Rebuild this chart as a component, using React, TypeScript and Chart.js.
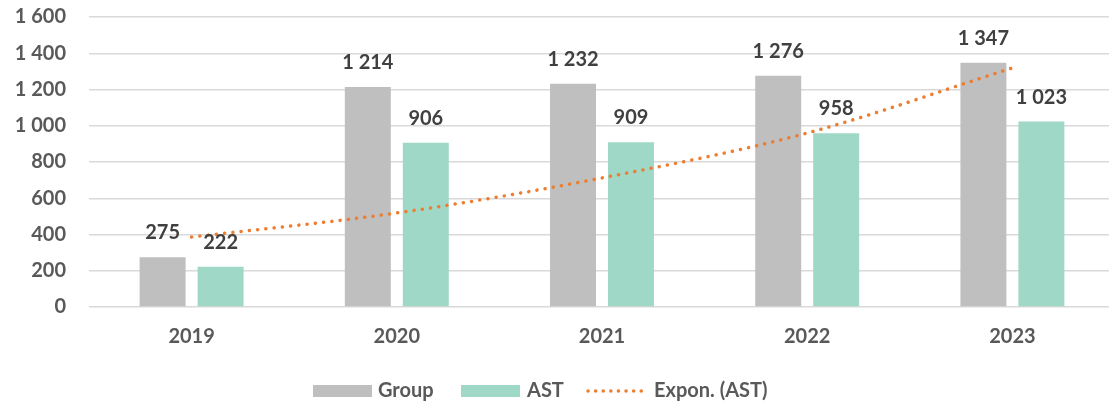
import React, { useEffect, useRef } from "react";
import { Chart, registerables } from "chart.js";

Chart.register(...registerables);

const categories = ["2019", "2020", "2021", "2022", "2023"];
const groupValues = [275, 1214, 1232, 1276, 1347];
const astValues = [222, 906, 909, 958, 1023];
const trendValues = [386, 519, 712, 960, 1319];
const yMin = 0;
const yMax = 1600;
const yStep = 200;

const GRAY = "#BFBFBF";
const TEAL = "#9FD8C7";
const ORANGE = "#ED7D31";
const FONT = "Lato, 'Open Sans', sans-serif";

const fmt = (n: number) => String(Math.round(n)).replace(/\B(?=(\d{3})+(?!\d))/g, " ");

const dataLabelPlugin = {
  id: "dataLabels",
  afterDatasetsDraw(chart: any) {
    const ctx = chart.ctx;
    ctx.save();
    ctx.font = `bold 20px ${FONT}`;
    ctx.fillStyle = "#404040";
    ctx.textAlign = "center";
    ctx.textBaseline = "alphabetic";
    [0, 1].forEach((di) => {
      const meta = chart.getDatasetMeta(di);
      const ds = chart.data.datasets[di];
      meta.data.forEach((el: any, i: number) => {
        ctx.fillText(fmt(ds.data[i] as number), el.x, el.y - 18);
      });
    });
    ctx.restore();
  },
};

const legendPlugin = {
  id: "customLegend",
  afterDraw(chart: any) {
    const ctx = chart.ctx;
    const cy = 391;
    ctx.save();
    ctx.font = `bold 20px ${FONT}`;
    ctx.textBaseline = "middle";
    ctx.textAlign = "left";
    ctx.fillStyle = GRAY;
    ctx.fillRect(313, cy - 6, 59, 12);
    ctx.fillStyle = "#595959";
    ctx.fillText("Group", 378, cy);
    ctx.fillStyle = TEAL;
    ctx.fillRect(461, cy - 6, 59, 12);
    ctx.fillStyle = "#595959";
    ctx.fillText("AST", 527, cy);
    ctx.strokeStyle = ORANGE;
    ctx.lineWidth = 3.5;
    ctx.lineCap = "round";
    ctx.setLineDash([0.1, 7.5]);
    ctx.beginPath();
    ctx.moveTo(588, cy);
    ctx.lineTo(648, cy);
    ctx.stroke();
    ctx.setLineDash([]);
    ctx.fillText("Expon. (AST)", 654, cy);
    ctx.restore();
  },
};

export default function App() {
  const ref = useRef<HTMLCanvasElement>(null);

  useEffect(() => {
    if (!ref.current) return;
    const chart = new Chart(ref.current, {
      type: "bar",
      data: {
        labels: categories,
        datasets: [
          {
            type: "bar",
            label: "Group",
            data: groupValues,
            backgroundColor: GRAY,
            categoryPercentage: 0.565,
            barPercentage: 0.793,
            order: 2,
          },
          {
            type: "bar",
            label: "AST",
            data: astValues,
            backgroundColor: TEAL,
            categoryPercentage: 0.565,
            barPercentage: 0.793,
            order: 2,
          },
          {
            type: "line",
            label: "Expon. (AST)",
            data: trendValues,
            borderColor: ORANGE,
            borderWidth: 3.5,
            borderDash: [0.1, 8.2],
            borderCapStyle: "round",
            pointRadius: 0,
            fill: false,
            cubicInterpolationMode: "monotone",
            order: 1,
          } as any,
        ],
      },
      options: {
        responsive: false,
        maintainAspectRatio: false,
        animation: false,
        layout: { padding: { top: 17, left: 0, right: 0, bottom: 0 } },
        plugins: {
          legend: { display: false },
          tooltip: { enabled: false },
        },
        scales: {
          x: {
            offset: true,
            grid: { display: false, drawTicks: false },
            border: { display: false },
            ticks: {
              padding: 18,
              color: "#595959",
              font: { family: FONT, size: 20, weight: "bold" },
            },
            afterFit(scale: any) {
              scale.height = 101;
              scale.paddingLeft = 0;
              scale.paddingRight = 0;
            },
          },
          y: {
            min: yMin,
            max: yMax,
            grid: { color: "#D9D9D9", lineWidth: 1.5, drawTicks: false },
            border: { display: false },
            ticks: {
              stepSize: yStep,
              padding: 23,
              color: "#595959",
              font: { family: FONT, size: 20, weight: "bold" },
              callback: (v: any) => fmt(Number(v)),
            },
            afterFit(scale: any) {
              scale.width = 89;
              scale.paddingTop = 0;
              scale.paddingBottom = 0;
            },
          },
        },
      },
      plugins: [dataLabelPlugin, legendPlugin],
    });
    return () => chart.destroy();
  }, []);

  return (
    <div
      style={{
        position: "fixed",
        left: 0,
        top: 0,
        width: 1109,
        height: 408,
        overflow: "hidden",
        background: "#fff",
      }}
    >
      <canvas ref={ref} width={1115} height={408} style={{ display: "block" }} />
    </div>
  );
}
